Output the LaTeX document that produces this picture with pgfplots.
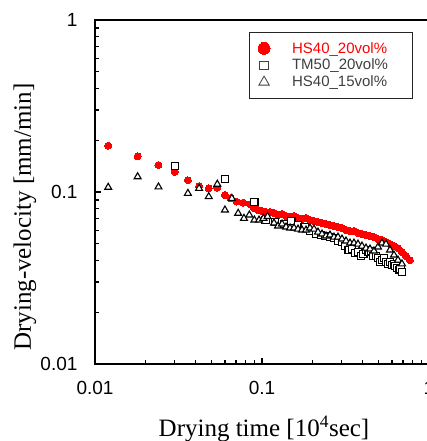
\documentclass[border=0pt]{standalone}
\usepackage{fontspec}
\setmainfont{Liberation Serif}
\setsansfont{Liberation Sans}
\usepackage{pgfplots}
\pgfplotsset{compat=1.18}
\usepackage{pgfplotstable}

\pgfplotstableread{
x y
0.012 0.186
0.018 0.161
0.024 0.1435
0.030 0.131
0.036 0.117
0.042 0.108
0.048 0.105
0.054 0.106
0.060 0.096
0.065 0.0919
0.0705 0.0879
0.0773 0.0867
0.0848 0.0848
0.0896 0.0807
0.0946 0.0786
0.1000 0.0775
0.1057 0.0765
0.1117 0.0765
0.1180 0.0755
0.1247 0.0735
0.1318 0.0745
0.1393 0.0725
0.1472 0.0715
0.1555 0.0725
0.1643 0.0706
0.1736 0.0697
0.1835 0.0706
0.1939 0.0687
0.2049 0.0678
0.2165 0.0669
0.2288 0.0660
0.2417 0.0652
0.2554 0.0643
0.2699 0.0634
0.2852 0.0626
0.3013 0.0618
0.3184 0.0601
0.3365 0.0593
0.3555 0.0593
0.3757 0.0578
0.397 0.0570
0.4195 0.0562
0.4433 0.0555
0.4684 0.0547
0.495 0.0533
0.523 0.0526
0.5527 0.0512
0.584 0.0498
0.6171 0.0485
0.652 0.0472
0.689 0.0448
0.728 0.0425
0.769 0.0402
}\redtab

\pgfplotstableread{
x y
0.030 0.1417
0.060 0.1186
0.090 0.0877
0.105 0.0687
0.120 0.0672
0.135 0.0652
0.150 0.0677
0.165 0.0640
0.180 0.0623
0.195 0.0593
0.210 0.0570
0.225 0.0562
0.240 0.0555
0.255 0.0547
0.270 0.0540
0.285 0.0519
0.300 0.0512
0.315 0.0485
0.330 0.0460
0.345 0.0466
0.360 0.0442
0.375 0.0448
0.390 0.0425
0.405 0.0436
0.420 0.0460
0.435 0.0448
0.450 0.0454
0.465 0.0425
0.480 0.0425
0.495 0.0413
0.510 0.0392
0.525 0.0402
0.540 0.0413
0.555 0.0392
0.570 0.0382
0.585 0.0392
0.600 0.0376
0.615 0.0382
0.630 0.0371
0.645 0.0361
0.660 0.0352
0.675 0.0356
0.690 0.0343
}\sqtab

\pgfplotstableread{
x y
0.012 0.1065
0.018 0.1227
0.024 0.107
0.036 0.0982
0.042 0.105
0.048 0.094
0.054 0.111
0.060 0.0786
0.066 0.0919
0.072 0.0752
0.078 0.0703
0.084 0.0735
0.090 0.0687
0.096 0.0687
0.102 0.0703
0.108 0.0720
0.1180 0.0660
0.1247 0.0634
0.1318 0.0652
0.1393 0.0626
0.1472 0.0618
0.1555 0.0618
0.1643 0.0609
0.1736 0.0601
0.1835 0.0601
0.1939 0.0618
0.2049 0.0609
0.2165 0.0585
0.2288 0.0570
0.2417 0.0555
0.2554 0.0562
0.2699 0.0547
0.2852 0.0547
0.3013 0.0533
0.3184 0.0519
0.3365 0.0505
0.3555 0.0505
0.3757 0.0498
0.397 0.0485
0.4195 0.0472
0.4433 0.0466
0.4684 0.0454
0.495 0.0479
0.523 0.0505
0.5527 0.0498
0.584 0.0460
0.6171 0.0430
0.652 0.0402
0.689 0.0382
}\tritab

\definecolor{legtxt}{HTML}{404040}

\begin{document}
\begin{tikzpicture}
\useasboundingbox (-95pt,-77pt) rectangle (332pt,364pt);
\begin{axis}[
  at={(0pt,0pt)}, anchor=south west,
  scale only axis, width=334pt, height=344pt,
  xmode=log, ymode=log,
  xmin=0.01, xmax=1, ymin=0.01, ymax=1,
  xtick={0.01,0.1,1}, xticklabels={0.01,0.1,1},
  ytick={0.01,0.1,1}, yticklabels={0.01,0.1,1},
  tick align=inside, tick pos=left,
  axis line style={line width=2.5pt},
  major tick length=6pt, minor tick length=4pt,
  every major tick/.append style={line width=1.6pt, black},
  every minor tick/.append style={line width=1.3pt, black},
  ticklabel style={font=\sffamily\fontsize{19}{19}\selectfont},
  xticklabel style={yshift=-14pt},
  yticklabel style={xshift=-14pt},
  xlabel={Drying time [10\textsuperscript{4}sec]},
  ylabel={Drying-velocity [mm/min]},
  label style={font=\fontsize{25}{25}\selectfont},
  xlabel style={at={(axis description cs:0.506,-0.2108)}, anchor=base},
  ylabel style={at={(axis description cs:-0.21,0.427)}, anchor=center},
  legend style={at={(axis description cs:0.952,0.966)}, anchor=north east,
    draw=black!85, line width=1pt, font=\sffamily\fontsize{15}{15}\selectfont,
    row sep=0.5pt, inner xsep=8.5pt, inner ysep=8pt},
  legend cell align=left,
  clip=false,
]
\addplot[only marks, mark=*, mark size=3.5pt, mark options={fill=red, draw=red, line width=0pt},
  legend image post style={mark size=6pt}] table[x=x,y=y]{\redtab};
\addlegendentry{\hspace*{20pt}\textcolor{red}{HS40\_20vol\%}\hspace*{14pt}}
\addplot[only marks, mark=square*, mark size=3.6pt, mark options={fill=white, draw=black, line width=1.1pt},
  legend image post style={mark size=4.2pt, mark options={fill=white, line width=0.8pt, draw=legtxt}}] table[x=x,y=y]{\sqtab};
\addlegendentry{\hspace*{20pt}\textcolor{legtxt}{TM50\_20vol\%}\hspace*{14pt}}
\addplot[only marks, mark=triangle*, mark size=4pt, mark options={fill=white, draw=black, line width=1.1pt},
  legend image post style={mark size=6pt, mark options={fill=white, line width=0.8pt, draw=legtxt}}] table[x=x,y=y]{\tritab};
\addlegendentry{\hspace*{20pt}\textcolor{legtxt}{HS40\_15vol\%}\rule[-6pt]{0pt}{0pt}\hspace*{14pt}}
\end{axis}
\end{tikzpicture}
\end{document}
